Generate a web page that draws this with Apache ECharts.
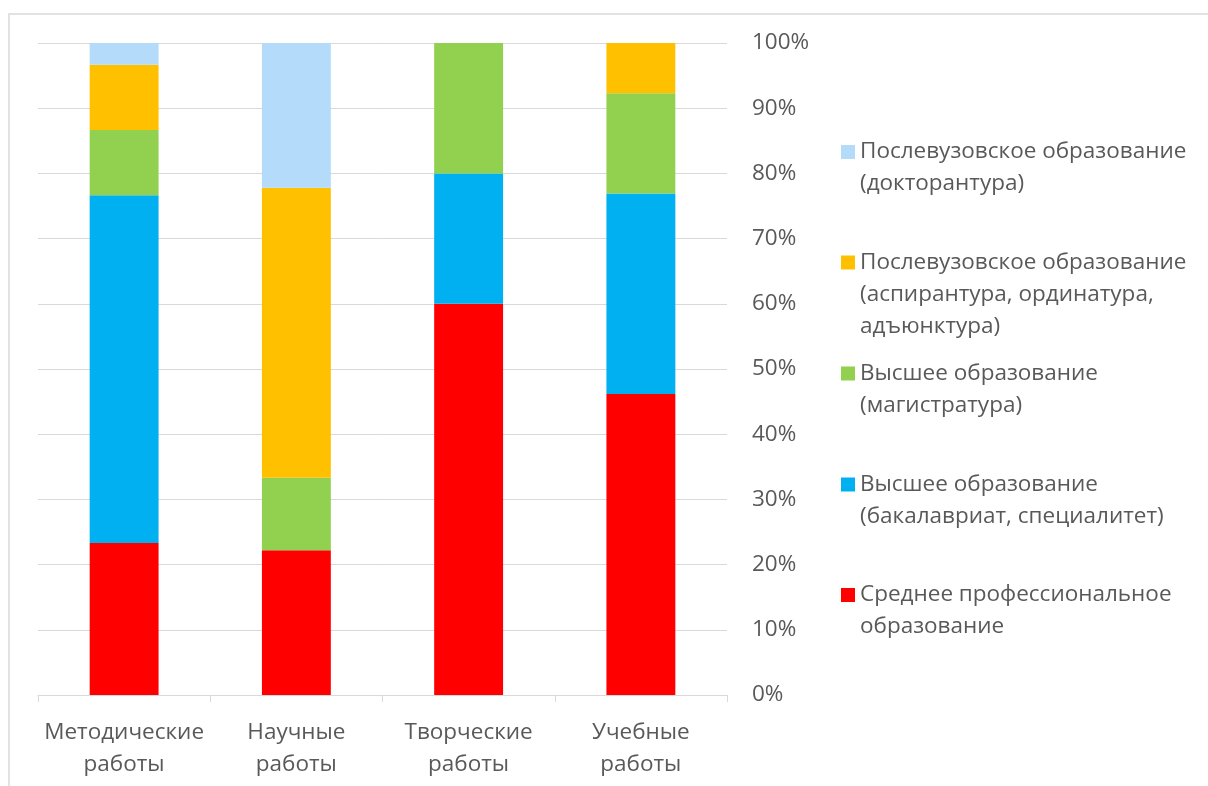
<!DOCTYPE html>
<html>
<head>
<meta charset="utf-8">
<script src="https://cdn.jsdelivr.net/npm/echarts@6/dist/echarts.min.js"></script>
<style>
html,body{margin:0;padding:0;background:#fff;}
#chart{width:1208px;height:786px;}
</style>
</head>
<body>
<div id="chart"></div>
<script>
// Categories (x axis)
const categories = ['Методические\nработы', 'Научные\nработы', 'Творческие\nработы', 'Учебные\nработы'];
// Series names (bottom to top in stack)
const seriesNames = [
  'Среднее профессиональное\nобразование',
  'Высшее образование\n(бакалавриат, специалитет)',
  'Высшее образование\n(магистратура)',
  'Послевузовское образование\n(аспирантура, ординатура,\nадъюнктура)',
  'Послевузовское образование\n(докторантура)'
];
// Values, % of each category
const srednee      = [23.33, 22.22, 60, 46.15];
const bakalavriat  = [53.33, 0, 20, 30.77];
const magistratura = [10, 11.11, 20, 15.38];
const aspirantura  = [10, 44.45, 0, 7.69];
const doktorantura = [3.34, 22.22, 0, 0];
// Y tick labels
const yTicks = [0, 10, 20, 30, 40, 50, 60, 70, 80, 90, 100];

const seriesValues = [srednee, bakalavriat, magistratura, aspirantura, doktorantura];
const colors = ['#FF0000', '#00B0F0', '#92D050', '#FFC000', '#B4DBF9'];
const FONT = 'Open Sans';
const TXT = '#595959';
const FS = 22.5;
const LH = 32;

const chart = echarts.init(document.getElementById('chart'), null, {renderer: 'canvas'});

// legend order: top to bottom (reverse of stack)
const legendOrder = [4, 3, 2, 1, 0];
const legendIconCenters = [152, 262.5, 373.5, 484.5, 595];
const legends = legendOrder.map((si, k) => {
  const n = seriesNames[si].split('\n').length;
  return {
    data: [seriesNames[si]],
    orient: 'vertical',
    left: 841,
    top: legendIconCenters[k] - (2 * n - 1) * LH / 2,
    padding: 0,
    itemWidth: 14,
    itemHeight: 14,
    itemGap: 0,
    icon: 'rect',
    selectedMode: false,
    formatter: function (name) { return '\n'.repeat(n - 1) + name; },
    textStyle: {color: TXT, fontFamily: FONT, fontSize: FS, lineHeight: LH}
  };
});

const option = {
  backgroundColor: '#fff',
  animation: false,
  color: colors,
  graphic: [{
    type: 'rect',
    shape: {x: 9, y: 14, width: 1400, height: 1000},
    style: {fill: 'none', stroke: '#D9D9D9', lineWidth: 1.5},
    silent: true,
    z: -10
  }],
  legend: legends,
  grid: {left: 38, right: 481, top: 43, bottom: 91, containLabel: false},
  xAxis: {
    type: 'category',
    data: categories,
    axisLine: {show: true, lineStyle: {color: '#D9D9D9', width: 1}},
    axisTick: {show: true, length: 7, lineStyle: {color: '#D9D9D9'}},
    axisLabel: {color: TXT, fontFamily: FONT, fontSize: FS, lineHeight: LH, margin: 22, interval: 0}
  },
  yAxis: {
    type: 'value',
    position: 'right',
    min: yTicks[0],
    max: yTicks[yTicks.length - 1],
    interval: 10,
    axisLine: {show: false},
    axisTick: {show: false},
    splitLine: {show: true, lineStyle: {color: '#D9D9D9', width: 1}},
    axisLabel: {color: TXT, fontFamily: FONT, fontSize: FS, margin: 25, align: 'left', padding: [3, 0, 0, 0], formatter: '{value}%'}
  },
  series: seriesNames.map((name, i) => ({
    name: name,
    type: 'bar',
    stack: 'total',
    barWidth: '40%',
    data: seriesValues[i],
    itemStyle: {color: colors[i]}
  }))
};
chart.setOption(option);
</script>
</body>
</html>
